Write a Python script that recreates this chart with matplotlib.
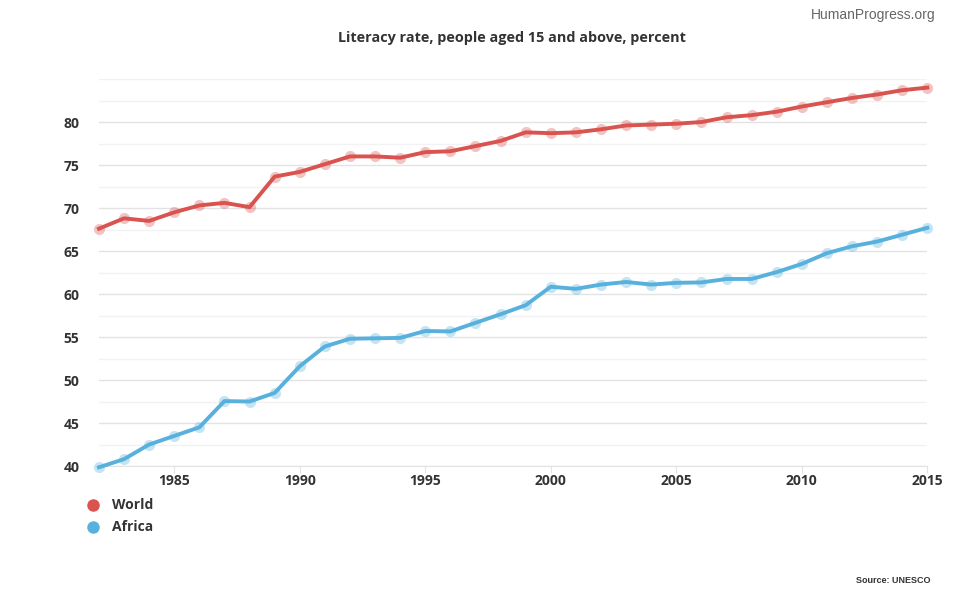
import matplotlib.pyplot as plt
import numpy as np
from matplotlib.ticker import MultipleLocator
from matplotlib.lines import Line2D

# donnees
years = list(range(1982, 2016))
world = [67.6, 68.8, 68.5, 69.5, 70.3, 70.6, 70.1, 73.65, 74.2, 75.1,
         76.0, 76.0, 75.85, 76.5, 76.6, 77.2, 77.8, 78.8, 78.7, 78.8,
         79.15, 79.6, 79.7, 79.8, 80.0, 80.55, 80.8, 81.2, 81.8, 82.3,
         82.8, 83.2, 83.7, 84.0]
africa = [39.85, 40.8, 42.5, 43.5, 44.5, 47.55, 47.5, 48.5, 51.6, 53.9,
          54.8, 54.85, 54.9, 55.7, 55.65, 56.65, 57.65, 58.7, 60.85, 60.6,
          61.1, 61.4, 61.1, 61.3, 61.35, 61.75, 61.75, 62.55, 63.5, 64.75,
          65.55, 66.1, 66.9, 67.7]
series = ['World', 'Africa']
colors = ['#d9534f', '#58b1dd']
x_ticks = [1985, 1990, 1995, 2000, 2005, 2010, 2015]

plt.rcParams['font.family'] = ['Open Sans', 'DejaVu Sans']

fig = plt.figure(figsize=(9.7, 6), dpi=100)
ax = fig.add_axes([0.102, 0.2233, 0.854, 0.645])

for vals, c, name in zip([world, africa], colors, series):
    ax.plot(years, vals, color=c, lw=2.8, zorder=3, label=name, clip_on=False)
    ax.plot(years, vals, 'o', color=c, ms=8, alpha=0.35, mec='none', zorder=4,
            clip_on=False)

ax.set_xlim(1982, 2015)
ax.set_ylim(40, 85)
ax.set_yticks([40, 45, 50, 55, 60, 65, 70, 75, 80])
ax.yaxis.set_minor_locator(MultipleLocator(2.5))
ax.set_xticks(x_ticks)
ax.grid(axis='y', which='major', color='#e3e3e3', lw=1)
ax.grid(axis='y', which='minor', color='#f2f2f2', lw=1)
ax.set_axisbelow(True)
for s in ['top', 'right', 'left']:
    ax.spines[s].set_visible(False)
ax.spines['bottom'].set_color('#e3e3e3')
ax.tick_params(axis='y', which='both', length=0, pad=14, labelsize=10,
               labelcolor='#333333')
ax.tick_params(axis='x', length=5, color='#e3e3e3', pad=1, labelsize=10,
               labelcolor='#333333')
ax.yaxis.set_minor_formatter(plt.NullFormatter())
for lab in ax.get_xticklabels() + ax.get_yticklabels():
    lab.set_fontweight('bold')

# textes
fig.text(0.528, 0.937, 'Literacy rate, people aged 15 and above, percent',
         ha='center', va='center', fontsize=10.4, fontweight='bold', color='#333333')
fig.text(0.9, 0.975, 'HumanProgress.org', ha='center', va='center',
         fontsize=10, color='#666666', family=['Liberation Sans', 'DejaVu Sans'])
fig.text(0.921, 0.033, 'Source: UNESCO', ha='center', va='center',
         fontsize=6.5, fontweight='bold', color='#333333',
         family=['Liberation Sans', 'DejaVu Sans'])

# legende
for i, (name, c) in enumerate(zip(series, colors)):
    yy = 1 - (505 + 22 * i) / 600
    fig.add_artist(Line2D([93 / 970], [yy], marker='o', ms=9, color=c,
                          mec='none', transform=fig.transFigure))
    fig.text(112 / 970, yy, name, ha='left', va='center', fontsize=10,
             fontweight='bold', color='#333333')

fig.savefig('out.png', dpi=100)
